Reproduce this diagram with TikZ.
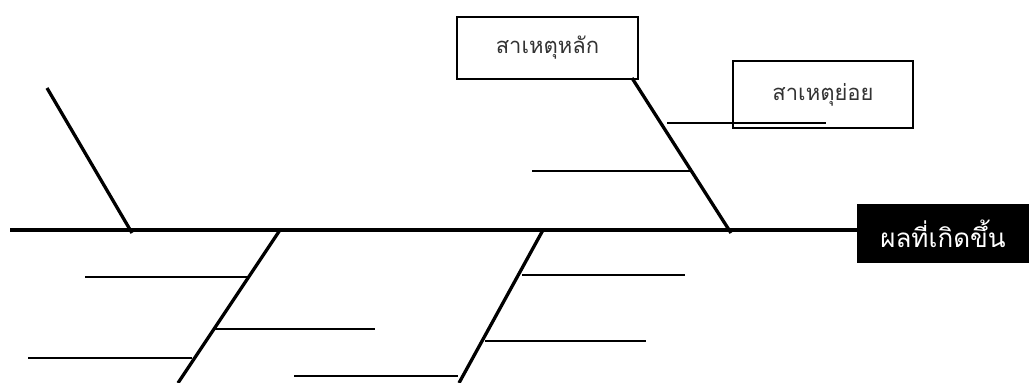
\documentclass[tikz,border=0pt]{standalone}
\usepackage{fontspec}
\newfontfamily\thaifont[Script=Thai]{Loma}
\tikzset{
    bone/.style={line width=3.3pt},
    twig/.style={line width=1.2pt},
}
\begin{document}
\begin{tikzpicture}[x=1pt,y=-1pt]
            \useasboundingbox (0,0) rectangle (1029,383);
            \begin{scope}[every node/.style={draw,line width=1.3pt,inner sep=0pt,font=\thaifont\fontsize{22}{24}\selectfont,text=black!80}]
                \node[minimum width=181pt,minimum height=62pt] (main) at (547.5,48) {สาเหตุหลัก};
                \node[minimum width=180pt,minimum height=67pt] (sub) at (823,94.5) {สาเหตุย่อย};
            \end{scope}
            \node[fill=black,text=white,inner sep=0pt,minimum width=172pt,minimum height=59pt,font=\thaifont\fontsize{26}{28}\selectfont] (result) at (943,233.5) {ผลที่เกิดขึ้น};
            % spine and bones
            \coordinate (tail) at (10,230);
            \coordinate (b1top) at (47,88);   \coordinate (b1end) at (132,233);
            \coordinate (b2top) at (632,78);  \coordinate (b2end) at (731,233);
            \coordinate (b3top) at (280,230); \coordinate (b3end) at (178,383);
            \coordinate (b4top) at (543,230); \coordinate (b4end) at (459,383);
            \draw[bone] (tail) -- (tail -| result.west);
            \draw[bone] (b1top) -- (b1end);
            \draw[bone] (b2top) -- (b2end);
            \draw[bone] (b3top) -- (b3end);
            \draw[bone] (b4top) -- (b4end);
            % small causes
            \foreach \n/\xa/\xb/\y in {1/667/826/123, 2/532/690/171, 3/85/247/277, 4/215/375/329, 5/28/192/358, 6/522/685/275, 7/485/646/341, 8/294/458/376}{
                \coordinate (t\n a) at (\xa,\y);
                \coordinate (t\n b) at (\xb,\y);
                \draw[twig] (t\n a) -- (t\n b);
            }
        \end{tikzpicture}
\end{document}
